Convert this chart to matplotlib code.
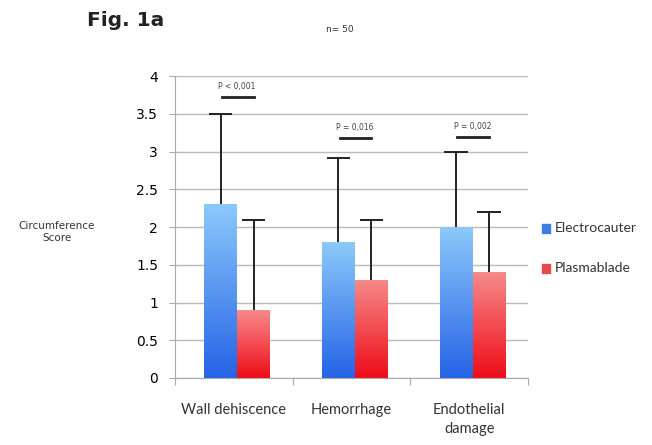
import numpy as np
import matplotlib.pyplot as plt
from matplotlib.colors import LinearSegmentedColormap
from matplotlib.patches import Rectangle

categories = ["Wall dehiscence", "Hemorrhage", "Endothelial\ndamage"]
electro = [2.3, 1.8, 2.0]
electro_err = [1.2, 1.12, 1.0]
plasma = [0.9, 1.3, 1.4]
plasma_err = [1.2, 0.8, 0.8]
pvals = ["P < 0,001", "P = 0,016", "P = 0,002"]
p_line_y = [3.73, 3.18, 3.19]

fig = plt.figure(figsize=(6.52, 4.45), dpi=100)
ax = fig.add_axes([0.268, 0.1506, 0.542, 0.678])

blue_cm = LinearSegmentedColormap.from_list("b", ["#2563e6", "#8cc9fa"])
red_cm = LinearSegmentedColormap.from_list("r", ["#ee0c18", "#f78a8a"])
grad = np.linspace(0, 1, 256).reshape(-1, 1)

x = np.arange(len(categories)) + 0.53
w = 0.28
cap = 0.1

def gbar(xc, h, cmap):
    r = Rectangle((xc - w / 2, 0), w, h, facecolor="none", edgecolor="none")
    ax.add_patch(r)
    im = ax.imshow(grad, extent=[xc - w / 2, xc + w / 2, 0, h], origin="lower",
                   aspect="auto", cmap=cmap, zorder=2)
    im.set_clip_path(r)

def ebar(xc, v, e):
    ax.vlines(xc, v, v + e, color="#222222", lw=1.4, zorder=3)
    ax.hlines(v + e, xc - cap, xc + cap, color="#222222", lw=1.4, zorder=3)

for i in range(len(categories)):
    gbar(x[i] - w / 2, electro[i], blue_cm)
    gbar(x[i] + w / 2, plasma[i], red_cm)
    ebar(x[i] - w / 2, electro[i], electro_err[i])
    ebar(x[i] + w / 2, plasma[i], plasma_err[i])

for i in range(len(categories)):
    ax.plot([x[i] - 0.13, x[i] + 0.14], [p_line_y[i]] * 2, color="#222222", lw=2, zorder=3)
    ax.text(x[i], p_line_y[i] + 0.08, pvals[i], ha="center", va="bottom",
            fontsize=5.5, color="#444444")

ax.set_xlim(0, 3)
ax.set_ylim(0, 4)
ax.set_yticks(np.arange(0, 4.01, 0.5))
ax.set_yticklabels(["0", "0.5", "1", "1.5", "2", "2.5", "3", "3.5", "4"], fontsize=10)
ax.yaxis.grid(True, color="#bbbbbb", lw=1)
ax.set_axisbelow(True)
ax.set_xticks([0, 1, 2, 3])
ax.set_xticklabels([])
ax.set_xticks(np.arange(len(categories)) + 0.5, minor=True)
ax.set_xticklabels(categories, minor=True, fontsize=10.5, family="Lato",
                   color="#333333", linespacing=1.5)
ax.tick_params(axis="x", which="minor", length=0, pad=18)
ax.tick_params(axis="x", which="major", length=5, color="#aaaaaa")
ax.tick_params(axis="y", length=4, color="#aaaaaa", pad=8)
for s in ["top", "right"]:
    ax.spines[s].set_visible(False)
for s in ["left", "bottom"]:
    ax.spines[s].set_color("#aaaaaa")

# legend
fig.patches.append(Rectangle((542 / 652, 1 - 233 / 445), 8 / 652, 9 / 445,
                             transform=fig.transFigure, color="#3d7fe0"))
fig.patches.append(Rectangle((542 / 652, 1 - 273 / 445), 8 / 652, 9 / 445,
                             transform=fig.transFigure, color="#e84a4a"))
fig.text(555 / 652, 1 - 228 / 445, "Electrocauter", fontsize=10, family="Lato",
         va="center", color="#333333")
fig.text(555 / 652, 1 - 268 / 445, "Plasmablade", fontsize=10, family="Lato",
         va="center", color="#333333")

fig.text(57 / 652, 1 - 232 / 445, "Circumference\nScore", fontsize=7.5,
         ha="center", va="center", color="#333333")
fig.text(87 / 652, 1 - 21 / 445, "Fig. 1a", fontsize=14.5, fontweight="bold",
         va="center", color="#222222")
fig.text(340 / 652, 1 - 30 / 445, "n= 50", fontsize=6.5, ha="center",
         va="center", color="#333333")

fig.savefig("out.png", dpi=100)
